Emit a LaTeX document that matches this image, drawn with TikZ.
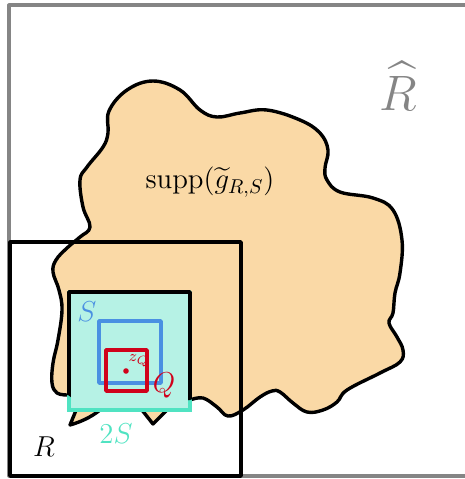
\documentclass[tikz,border=0pt]{standalone}
\usepackage{amsmath}
\definecolor{blobfill}{HTML}{FAD9A6}
\definecolor{tealfill}{HTML}{B6F2E5}
\definecolor{tealline}{HTML}{50E3C2}
\definecolor{sblue}{HTML}{4A90E2}
\definecolor{qred}{HTML}{D0021B}
\definecolor{hatgray}{HTML}{858585}
\tikzset{
  lbl/.style={inner sep=0pt, font=\fontsize{14}{17}\selectfont},
  sqline/.style={line width=1.8pt},
}
\begin{document}
\begin{tikzpicture}[x=0.5pt,y=-0.5pt,line join=round]
\useasboundingbox (0,0) rectangle (465,479);
% outer frame R-hat
\draw[hatgray, line width=1.6pt] (480,5) -- (9,5) -- (9,476) -- (480,476);
\node[lbl, text=hatgray, font=\fontsize{33}{38}\selectfont] (rhat) at (398,86) {$\widehat{R}$};
% blob
\def\blobpath{plot[smooth, tension=0.65] coordinates {(190,400) (203,398) (217,407) (228,416) (243,410) (260,397) (272,391) (280,392) (293,403) (307,412) (323,410) (337,402) (347,390) (380,373) (400,362) (403,350) (397,337) (389,323) (393,313) (395,293) (400,273) (402,240) (393,210) (373,198) (340,192) (327,180) (325,168) (328,150) (320,133) (300,120) (267,110) (240,113) (217,117) (200,110) (180,90) (153,81) (127,90) (109,111) (108,133) (103,147) (87,167) (80,180) (83,207) (90,227) (80,237) (67,248) (56,260) (53,272) (59,290) (62,310) (58,340) (53,363) (52,383) (57,393) (68,395)} -- (79,403) -- (70,425) .. controls (80,422) and (90,418) .. (100,410) -- (125,400) -- (138,405) -- (153,424) -- (172,405) -- (182,401) -- cycle}
\fill[blobfill] \blobpath;
\draw[line width=1.7pt] \blobpath;
\node[lbl] (supp) at (210,182) {$\operatorname{supp}(\widetilde{g}_{R,S})$};
% R square
\draw[sqline] (10,242) rectangle (241,476);
\node[lbl] (rlab) at (44,447) {$R$};
% 2S square
\path[fill=tealfill, draw=tealline, line width=1.8pt] (69,292) rectangle (190,410);
\begin{scope}
  \clip \blobpath;
  \draw[sqline] (69,410) -- (69,292) -- (190,292) -- (190,410);
\end{scope}
\draw[tealline, line width=1.8pt] (67,410) -- (192,410);
\node[lbl, text=tealline] (twos) at (116,434) {$2S$};
% S square
\draw[sblue, line width=1.8pt] (99,321) rectangle (161,383);
\node[lbl, text=sblue] (slab) at (87,312) {$S$};
% Q square
\draw[qred, line width=1.8pt] (106,350) rectangle (147,391);
\node[lbl, text=qred] (qlab) at (164,385) {$Q$};
\fill[qred] (126,371) circle (1.4pt);
\node[inner sep=0pt, text=qred, font=\footnotesize] (zq) at (139,361) {$z_Q$};
\end{tikzpicture}
\end{document}
